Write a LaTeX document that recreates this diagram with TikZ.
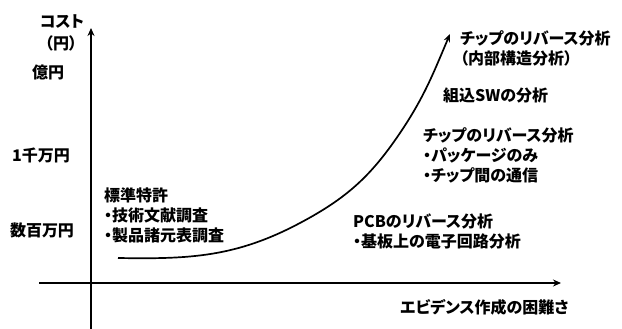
\documentclass[tikz,border=0pt]{standalone}
\usepackage{fontspec}
\setmainfont{Noto Sans CJK JP}[BoldFont={Noto Sans CJK JP Black},CharacterWidth=AlternateProportional]
\usetikzlibrary{arrows.meta}
\tikzset{
  axis/.style={line width=2.4pt,-{Stealth[length=8pt,width=7pt]}},
  trend/.style={line width=1.7pt,-{Stealth[length=8pt,width=6.5pt]}},
  lbl/.style={font=\bfseries\fontsize{16}{20}\selectfont,inner sep=0pt},
  blk/.style={lbl,align=left,anchor=north west},
}
\begin{document}
\begin{tikzpicture}[x=1pt,y=1pt]
\useasboundingbox (0,0) rectangle (622,329);
\fill[white] (0,0) rectangle (622,329);
% axes
\coordinate (ybot) at (91,0);
\coordinate (ytop) at (91,301);
\coordinate (xl) at (39,46);
\coordinate (xr) at (561,46);
\draw[axis] (ybot) -- (ytop);
\draw[axis] (xl) -- (xr);
% curve
\coordinate (c0) at (118,71);
\coordinate (c1) at (300,106);
\coordinate (c2) at (400,196);
\coordinate (c3) at (450,295);
\draw[trend] (c0) to[out=-1,in=208] (c1) to[out=28,in=236] (c2) to[out=56,in=247] (c3);
% y labels
\node[lbl] (cost) at (62,307) {コスト};
\node[lbl] (yen) at (61,286) {（円）};
\node[lbl] (oku) at (48,257) {億円};
\node[lbl] (sen) at (41,174) {1千万円};
\node[lbl] (suhyaku) at (42,99) {数百万円};
% annotations
\node[blk] (std) at (104,141) {標準特許\\・技術文献調査\\・製品諸元表調査};
\node[blk] (pcb) at (353,115) {PCBのリバース分析\\・基板上の電子回路分析};
\node[blk] (chip1) at (423,202) {チップのリバース分析\\・パッケージのみ\\・チップ間の通信};
\node[lbl,anchor=west] (sw) at (443,234) {組込SWの分析};
\node[blk] (chip2) at (460,299) {チップのリバース分析\\（内部構造分析）};
\node[lbl,anchor=west] (xlab) at (400,22) {エビデンス作成の困難さ};
\end{tikzpicture}
\end{document}
